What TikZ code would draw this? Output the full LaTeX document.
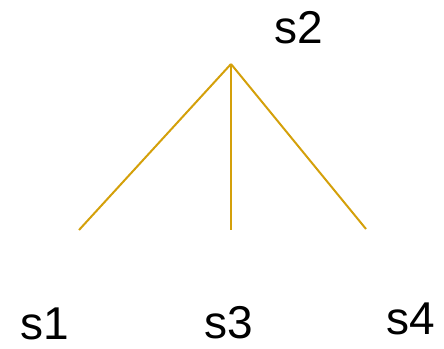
\documentclass[tikz,border=0pt]{standalone}
\usepackage{fontspec}
\setmainfont{Liberation Sans}
\definecolor{edgegold}{RGB}{212,160,10}
\begin{document}
\begin{tikzpicture}[x=1pt,y=-1pt,
  lbl/.style={font=\fontsize{46}{50}\selectfont, inner sep=0pt, anchor=base},
  edge/.style={draw=edgegold, line width=2pt}]
\useasboundingbox (0,0) rectangle (444,348);
\coordinate (top) at (231,64);
\coordinate (e1) at (79,230);
\coordinate (e3) at (231,230);
\coordinate (e4) at (366,229);
\draw[edge] (top) -- (e1);
\draw[edge] (top) -- (e3);
\draw[edge] (top) -- (e4);
\node[lbl] (s2) at (299,43) {s2};
\node[lbl] (s1) at (45,339.5) {s1};
\node[lbl] (s3) at (229,338) {s3};
\node[lbl] (s4) at (411,334) {s4};
\end{tikzpicture}
\end{document}
